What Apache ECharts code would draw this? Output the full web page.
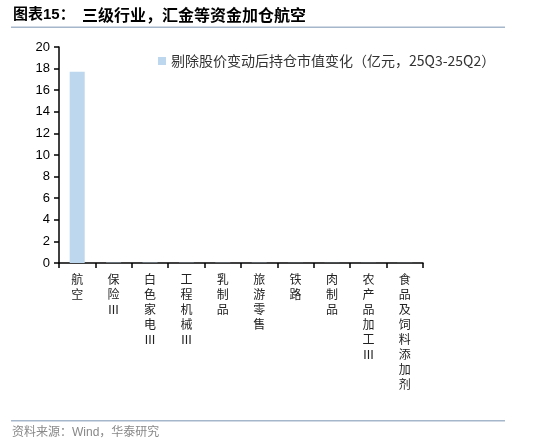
<!DOCTYPE html>
<html><head><meta charset="utf-8">
<script src="https://cdn.jsdelivr.net/npm/echarts@6/dist/echarts.min.js"></script>
<style>html,body{margin:0;padding:0;background:#fff}#c{width:550px;height:447px}</style>
</head><body><div id="c"></div>
<script>
var categories = ['航空','保险Ⅲ','白色家电Ⅲ','工程机械Ⅲ','乳制品','旅游零售','铁路','肉制品','农产品加工Ⅲ','食品及饲料添加剂'];
var values = [17.7, 0.03, 0.03, 0.02, 0.02, 0.02, 0.01, 0.01, 0.01, 0.01];
var seriesName = '剔除股价变动后持仓市值变化（亿元，25Q3-25Q2）';
var yTicks = [0, 20, 2];
var chart = echarts.init(document.getElementById('c'));
chart.setOption({
  animation:false,
  textStyle:{fontFamily:'Liberation Sans, Noto Sans CJK SC'},
  graphic:[
    {type:'text',left:13,top:7,style:{text:'图表15：',font:'bold 15px "Liberation Sans","Noto Sans CJK SC"',fill:'#000'}},
    {type:'text',left:82,top:7,style:{text:'三级行业，汇金等资金加仓航空',font:'bold 16px "Noto Sans CJK SC"',fill:'#000'}},
    {type:'rect',shape:{x:11,y:26.5,width:494,height:1.5},style:{fill:'#a5b8cb'}},
    {type:'rect',shape:{x:11,y:420,width:494,height:1.5},style:{fill:'#a5b8cb'}},
    {type:'text',left:12,top:427,style:{text:'资料来源：Wind，华泰研究',font:'12px "Liberation Sans","Noto Sans CJK SC"',fill:'#888'}}
  ],
  legend:{left:153,top:49,itemWidth:8,itemHeight:8,itemGap:4,icon:'rect',
    textStyle:{fontSize:14,color:'#333',fontFamily:'Noto Sans CJK SC, Liberation Sans'},data:[seriesName]},
  grid:{left:59,right:127,top:47,bottom:184,containLabel:false},
  xAxis:{type:'category',data:categories,
    axisLine:{lineStyle:{color:'#000',width:1.5}},
    axisTick:{show:true,alignWithLabel:false,length:5,lineStyle:{color:'#000',width:1.5}},
    axisLabel:{interval:0,color:'#222',fontSize:12,lineHeight:15,margin:9,fontFamily:'Noto Sans CJK SC',
      formatter:function(v){return Array.from(v).join('\n');}}},
  yAxis:{type:'value',min:yTicks[0],max:yTicks[1],interval:yTicks[2],
    splitLine:{show:false},
    axisLine:{show:true,lineStyle:{color:'#000',width:1.5}},
    axisTick:{show:true,inside:false,length:5,lineStyle:{color:'#000',width:1.5}},
    axisLabel:{color:'#000',fontSize:13,margin:9}},
  series:[{name:seriesName,type:'bar',data:values,barWidth:15,barGap:'0%',
    itemStyle:{color:'#BDD7EE'}}]
});
</script></body></html>
